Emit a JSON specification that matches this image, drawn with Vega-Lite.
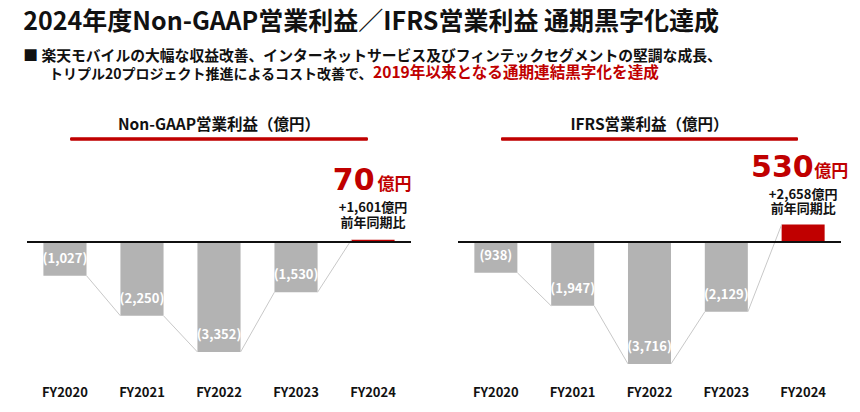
{
  "$schema": "https://vega.github.io/schema/vega-lite/v6.json",
  "padding": {"left": 23, "top": 10, "right": 25, "bottom": 8},
  "background": "white",
  "config": {
    "view": {"stroke": null},
    "font": "Noto Sans CJK JP",
    "title": {"font": "Noto Sans CJK JP", "fontWeight": "bold", "fontSize": 14.8, "color": "#111111"}
  },
  "title": {
    "text": "2024年度Non-GAAP営業利益／IFRS営業利益 通期黒字化達成",
    "subtitle": "■    楽天モバイルの大幅な収益改善、インターネットサービス及びフィンテックセグメントの堅調な成長、",
    "anchor": "start",
    "dx": -3,
    "fontSize": 25,
    "subtitleFont": "Noto Sans CJK JP",
    "subtitleFontSize": 14.8,
    "subtitleFontWeight": "bold",
    "subtitleColor": "#111111",
    "subtitlePadding": 14,
    "offset": 2
  },
  "vconcat": [
    {
      "hconcat": [
        {
          "width": 1, "height": 1,
          "title": {"text": "トリプル20プロジェクト推進によるコスト改善で、", "anchor": "start", "dx": 22, "offset": 2, "fontSize": 14},
          "data": {"values": [{}]},
          "mark": {"type": "text"},
          "encoding": {"text": {"value": ""}}
        },
        {
          "width": 1, "height": 1,
          "title": {"text": "2019年以来となる通期連結黒字化を達成", "anchor": "start", "color": "#c00000", "offset": 2, "fontSize": 15.6},
          "data": {"values": [{}]},
          "mark": {"type": "text"},
          "encoding": {"text": {"value": ""}}
        }
      ],
      "spacing": -7
    },
    {
      "hconcat": [
        {
          "width": 384, "height": 243,
          "title": {"text": "Non-GAAP営業利益（億円）", "offset": 4, "fontSize": 15.5},
          "data": {"values": [
            {"year": "FY2020", "v": -1027},
            {"year": "FY2021", "v": -2250},
            {"year": "FY2022", "v": -3352},
            {"year": "FY2023", "v": -1530},
            {"year": "FY2024", "v": 70, "yoy": "+1,601億円"}
          ]},
          "layer": [
            {
              "mark": {"type": "bar"},
              "encoding": {
                "x": {"field": "year", "type": "nominal", "sort": null,
                  "scale": {"domain": ["FY2020", "FY2021", "FY2022", "FY2023", "FY2024"], "paddingInner": 0.44, "paddingOuter": 0.213},
                  "axis": {"title": null, "domain": false, "ticks": false, "labelAngle": 0, "labelFont": "Noto Sans CJK JP", "labelFontSize": 13, "labelFontWeight": "bold", "labelColor": "#111111", "labelPadding": 6}},
                "y": {"field": "v", "type": "quantitative", "scale": {"domain": [-4207, 3201], "nice": false, "zero": false}, "axis": null},
                "color": {"condition": {"test": "datum.v > 0", "value": "#c00000"}, "value": "#b3b3b3"}
              }
            },
            {
              "mark": {"type": "rule", "color": "#c00000", "strokeWidth": 2.5},
              "encoding": {
                "x": {"datum": "FY2020", "type": "nominal", "bandPosition": 0.63},
                "x2": {"datum": "FY2024", "bandPosition": 0.37},
                "y": {"datum": 3140, "type": "quantitative", "axis": null}
              }
            },
            {
              "transform": [
                {"window": [{"op": "lead", "field": "year", "as": "next"}, {"op": "lead", "field": "v", "as": "nv"}]},
                {"filter": "datum.next != null"}
              ],
              "mark": {"type": "rule", "color": "#c8c8c8", "strokeWidth": 1},
              "encoding": {
                "x": {"field": "year", "type": "nominal", "bandPosition": 1},
                "x2": {"field": "next", "bandPosition": 0},
                "y": {"field": "v", "type": "quantitative", "axis": null},
                "y2": {"field": "nv"}
              }
            },
            {
              "mark": {"type": "rule", "color": "#111111", "strokeWidth": 1.5},
              "encoding": {"y": {"datum": 0, "type": "quantitative", "axis": null}}
            },
            {
              "transform": [{"filter": "datum.v < 0"}],
              "mark": {"type": "text", "color": "white", "fontSize": 13, "fontWeight": "bold", "baseline": "middle", "dy": -17},
              "encoding": {
                "x": {"field": "year", "type": "nominal"},
                "y": {"field": "v", "type": "quantitative", "axis": null},
                "text": {"field": "v", "type": "quantitative", "format": "(,.0f"}
              }
            },
            {
              "transform": [{"filter": "datum.v > 0"}],
              "mark": {"type": "text", "color": "#c00000", "font": "DejaVu Sans", "fontSize": 30, "fontWeight": "bold", "align": "right", "baseline": "alphabetic", "dx": 1.5, "dy": -50},
              "encoding": {
                "x": {"field": "year", "type": "nominal"},
                "y": {"field": "v", "type": "quantitative", "axis": null},
                "text": {"field": "v", "type": "quantitative", "format": ",.0f"}
              }
            },
            {
              "transform": [{"filter": "datum.v > 0"}],
              "mark": {"type": "text", "color": "#c00000", "fontSize": 17, "fontWeight": "bold", "align": "left", "baseline": "alphabetic", "dx": 4.5, "dy": -50},
              "encoding": {
                "x": {"field": "year", "type": "nominal"},
                "y": {"field": "v", "type": "quantitative", "axis": null},
                "text": {"value": "億円"}
              }
            },
            {
              "transform": [{"filter": "datum.v > 0"}],
              "mark": {"type": "text", "color": "#111111", "fontSize": 13, "fontWeight": "bold", "baseline": "middle", "dy": -31.5},
              "encoding": {
                "x": {"field": "year", "type": "nominal"},
                "y": {"field": "v", "type": "quantitative", "axis": null},
                "text": {"field": "yoy"}
              }
            },
            {
              "transform": [{"filter": "datum.v > 0"}],
              "mark": {"type": "text", "color": "#111111", "fontSize": 13, "fontWeight": "bold", "baseline": "middle", "dy": -17},
              "encoding": {
                "x": {"field": "year", "type": "nominal"},
                "y": {"field": "v", "type": "quantitative", "axis": null},
                "text": {"value": "前年同期比"}
              }
            }
          ]
        },
        {
          "width": 383, "height": 243,
          "title": {"text": "IFRS営業利益（億円）", "offset": 4, "fontSize": 15.5},
          "data": {"values": [
            {"year": "FY2020", "v": -938},
            {"year": "FY2021", "v": -1947},
            {"year": "FY2022", "v": -3716},
            {"year": "FY2023", "v": -2129},
            {"year": "FY2024", "v": 530, "yoy": "+2,658億円"}
          ]},
          "layer": [
            {
              "mark": {"type": "bar"},
              "encoding": {
                "x": {"field": "year", "type": "nominal", "sort": null,
                  "scale": {"domain": ["FY2020", "FY2021", "FY2022", "FY2023", "FY2024"], "paddingInner": 0.44, "paddingOuter": 0.213},
                  "axis": {"title": null, "domain": false, "ticks": false, "labelAngle": 0, "labelFont": "Noto Sans CJK JP", "labelFontSize": 13, "labelFontWeight": "bold", "labelColor": "#111111", "labelPadding": 6}},
                "y": {"field": "v", "type": "quantitative", "scale": {"domain": [-4207, 3201], "nice": false, "zero": false}, "axis": null},
                "color": {"condition": {"test": "datum.v > 0", "value": "#c00000"}, "value": "#b3b3b3"}
              }
            },
            {
              "mark": {"type": "rule", "color": "#c00000", "strokeWidth": 2.5},
              "encoding": {
                "x": {"datum": "FY2020", "type": "nominal", "bandPosition": 0.63},
                "x2": {"datum": "FY2024", "bandPosition": 0.37},
                "y": {"datum": 3140, "type": "quantitative", "axis": null}
              }
            },
            {
              "transform": [
                {"window": [{"op": "lead", "field": "year", "as": "next"}, {"op": "lead", "field": "v", "as": "nv"}]},
                {"filter": "datum.next != null"}
              ],
              "mark": {"type": "rule", "color": "#c8c8c8", "strokeWidth": 1},
              "encoding": {
                "x": {"field": "year", "type": "nominal", "bandPosition": 1},
                "x2": {"field": "next", "bandPosition": 0},
                "y": {"field": "v", "type": "quantitative", "axis": null},
                "y2": {"field": "nv"}
              }
            },
            {
              "mark": {"type": "rule", "color": "#111111", "strokeWidth": 1.5},
              "encoding": {"y": {"datum": 0, "type": "quantitative", "axis": null}}
            },
            {
              "transform": [{"filter": "datum.v < 0"}],
              "mark": {"type": "text", "color": "white", "fontSize": 13, "fontWeight": "bold", "baseline": "middle", "dy": -17},
              "encoding": {
                "x": {"field": "year", "type": "nominal"},
                "y": {"field": "v", "type": "quantitative", "axis": null},
                "text": {"field": "v", "type": "quantitative", "format": "(,.0f"}
              }
            },
            {
              "transform": [{"filter": "datum.v > 0"}],
              "mark": {"type": "text", "color": "#c00000", "font": "DejaVu Sans", "fontSize": 30, "fontWeight": "bold", "align": "right", "baseline": "alphabetic", "dx": 10.5, "dy": -48},
              "encoding": {
                "x": {"field": "year", "type": "nominal"},
                "y": {"field": "v", "type": "quantitative", "axis": null},
                "text": {"field": "v", "type": "quantitative", "format": ",.0f"}
              }
            },
            {
              "transform": [{"filter": "datum.v > 0"}],
              "mark": {"type": "text", "color": "#c00000", "fontSize": 17, "fontWeight": "bold", "align": "left", "baseline": "alphabetic", "dx": 11, "dy": -48},
              "encoding": {
                "x": {"field": "year", "type": "nominal"},
                "y": {"field": "v", "type": "quantitative", "axis": null},
                "text": {"value": "億円"}
              }
            },
            {
              "transform": [{"filter": "datum.v > 0"}],
              "mark": {"type": "text", "color": "#111111", "fontSize": 13, "fontWeight": "bold", "baseline": "middle", "dy": -30},
              "encoding": {
                "x": {"field": "year", "type": "nominal"},
                "y": {"field": "v", "type": "quantitative", "axis": null},
                "text": {"field": "yoy"}
              }
            },
            {
              "transform": [{"filter": "datum.v > 0"}],
              "mark": {"type": "text", "color": "#111111", "fontSize": 13, "fontWeight": "bold", "baseline": "middle", "dy": -16},
              "encoding": {
                "x": {"field": "year", "type": "nominal"},
                "y": {"field": "v", "type": "quantitative", "axis": null},
                "text": {"value": "前年同期比"}
              }
            }
          ]
        }
      ],
      "spacing": 45
    }
  ],
  "spacing": 22
}
